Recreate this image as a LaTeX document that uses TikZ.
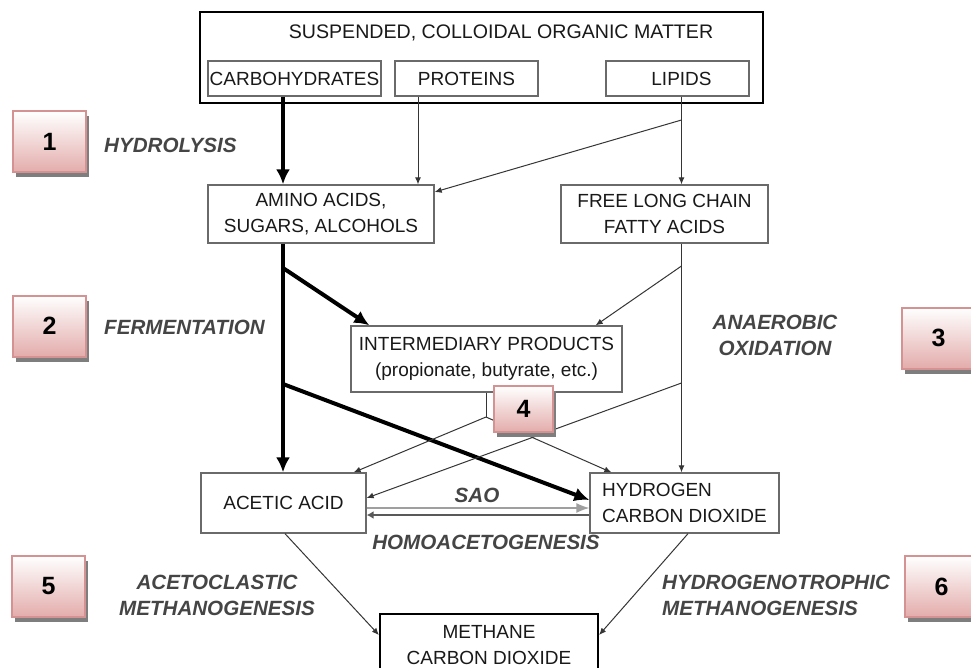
\documentclass[tikz,border=0pt]{standalone}
\usepackage{fontspec}
\setmainfont{Liberation Sans}
\usetikzlibrary{arrows.meta,shadows,calc}
\definecolor{lblgray}{HTML}{454545}
\definecolor{boxgray}{HTML}{6A6A6A}
\definecolor{linegray}{HTML}{353535}
\definecolor{pinkbot}{HTML}{E3ACAB}
\definecolor{pinkedge}{HTML}{D49392}
\definecolor{shadowgray}{HTML}{7E7E7E}
\begin{document}
\begin{tikzpicture}[x=1pt,y=-1pt,
  inbox/.style={draw=boxgray,line width=1.3pt,fill=white,inner sep=0pt,align=center,
    font=\fontsize{19}{26}\selectfont,text=black!90},
  bigbox/.style={draw=black,line width=2.2pt,inner sep=0pt},
  numbox/.style={draw=pinkedge,line width=2pt,top color=white,bottom color=pinkbot,
    minimum width=73pt,minimum height=61pt,inner sep=0pt,
    font=\fontsize{25}{25}\selectfont\bfseries,
    drop shadow={shadow xshift=3pt,shadow yshift=-5pt,fill=shadowgray,opacity=1}},
  lbl/.style={font=\fontsize{20.6}{26}\selectfont\bfseries\itshape,text=lblgray,inner sep=0pt},
  thinarr/.style={draw=linegray,line width=1pt,-{Latex[length=7pt,width=6pt]}},
  thinln/.style={draw=linegray,line width=1pt},
  thickarr/.style={draw=black,line width=4pt,-{Latex[length=15pt,width=14pt]}},
  saoarr/.style={draw=gray!75,line width=1.3pt,-{Latex[length=13pt,width=10pt]}},
  homoarr/.style={draw=gray!70!black,line width=2.6pt,-{Latex[length=7pt,width=8pt]}},
]
\useasboundingbox (0,0) rectangle (971,668);
\fill[white] (0,0) rectangle (971,668);

% columns
\coordinate (xL) at (283,0);
\coordinate (xP) at (418,0);
\coordinate (xR) at (681.5,0);

% top group
\node[bigbox,minimum width=563pt,minimum height=91pt] (top) at (481.5,57.5) {};
\node[inner sep=0pt,font=\fontsize{19.6}{26}\selectfont,text=black!90] (title) at (501,33) {SUSPENDED, COLLOIDAL ORGANIC MATTER};
\node[inbox,minimum width=173pt,minimum height=35pt] (carb) at (294.5,78.5) {CARBOHYDRATES};
\node[inbox,minimum width=143pt,minimum height=35pt] (prot) at (466.5,78.5) {PROTEINS};
\node[inbox,minimum width=143pt,minimum height=35pt] (lipids) at (677.5,78.5) {\hspace*{8pt}LIPIDS};

% middle boxes
\node[inbox,minimum width=226pt,minimum height=58pt] (amino) at (321,214) {AMINO ACIDS,\\SUGARS, ALCOHOLS};
\node[inbox,minimum width=207pt,minimum height=58pt] (ffa) at (664.5,214) {FREE LONG CHAIN\\FATTY ACIDS};
\node[inbox,minimum width=271pt,minimum height=66pt] (inter) at (486.5,359) {INTERMEDIARY PRODUCTS\\(propionate, butyrate, etc.)};
\node[inbox,minimum width=165pt,minimum height=60pt] (acetic) at (283.5,503) {ACETIC ACID};
\node[inbox,minimum width=189pt,minimum height=60pt,align=left] (hyd) at (684.5,503) {HYDROGEN\\CARBON DIOXIDE};
\node[inbox,draw=black,line width=2.2pt,minimum width=218pt,minimum height=62pt] (methane) at (489,645) {METHANE\\CARBON DIOXIDE};

% branch points
\coordinate (b1) at (681.5,120);
\coordinate (b2) at (283,268);
\coordinate (b3) at (283,384);
\coordinate (b4) at (681.5,266);
\coordinate (b5) at (681.5,383);
\coordinate (b6) at (486,417);

% hydrolysis
\draw[thickarr] (carb.south -| xL) -- (amino.north -| xL);
\draw[thinarr] (prot.south -| xP) -- (amino.north -| xP);
\draw[thinarr] (lipids.south -| xR) -- (ffa.north -| xR);
\draw[thinarr] (b1) -- ([yshift=22pt]amino.east);

% fermentation
\draw[thickarr] (amino.south -| xL) -- (acetic.north -| xL);
\draw[thickarr] (b2) -- ([xshift=19pt]inter.north west);
\draw[thickarr] (b3) -- ([yshift=3pt]hyd.west);

% anaerobic oxidation
\draw[thinarr] (ffa.south -| xR) -- (hyd.north -| xR);
\draw[thinarr] (b4) -- ([xshift=-27pt]inter.north east);
\draw[thinarr] (b5) -- ([yshift=5pt]acetic.east);

% intermediary products
\draw[thinln] (inter.south -| b6) -- (b6);
\draw[thinarr] (b6) -- ([xshift=-13pt]acetic.north east);
\draw[thinarr] (b6) -- ([xshift=22pt]hyd.north west);

% SAO / homoacetogenesis
\draw[saoarr] ([yshift=-5pt]acetic.east) -- ([yshift=-5pt]hyd.west);
\draw[homoarr] ([yshift=-12pt]hyd.west) -- ([yshift=-12pt]acetic.east);

% methanogenesis
\draw[thinarr] ([xshift=1.5pt]acetic.south) -- ([yshift=10pt]methane.west);
\draw[thinarr] ([xshift=3.5pt]hyd.south) -- ([yshift=10pt]methane.east);

% number boxes
\node[numbox] (n1) at (49.5,142) {1};
\node[numbox] (n2) at (49.5,326) {2};
\node[numbox] (n3) at (938.5,338) {3};
\node[numbox,minimum width=59pt,minimum height=46pt] (n4) at (523.5,409) {4};
\node[numbox] (n5) at (48.5,586.5) {5};
\node[numbox] (n6) at (941.5,586.5) {6};

% labels
\node[lbl,anchor=west] (lhyd) at (104,145) {HYDROLYSIS};
\node[lbl,anchor=west] (lfer) at (104,327) {FERMENTATION};
\node[lbl,align=center] (lana) at (775,335) {ANAEROBIC\\OXIDATION};
\node[lbl] (lsao) at (477,495) {SAO};
\node[lbl] (lhomo) at (486,542) {HOMOACETOGENESIS};
\node[lbl,align=center] (lacet) at (217,595) {ACETOCLASTIC\\METHANOGENESIS};
\node[lbl,align=left,anchor=west] (lhydro) at (662,595) {HYDROGENOTROPHIC\\METHANOGENESIS};
\end{tikzpicture}
\end{document}
